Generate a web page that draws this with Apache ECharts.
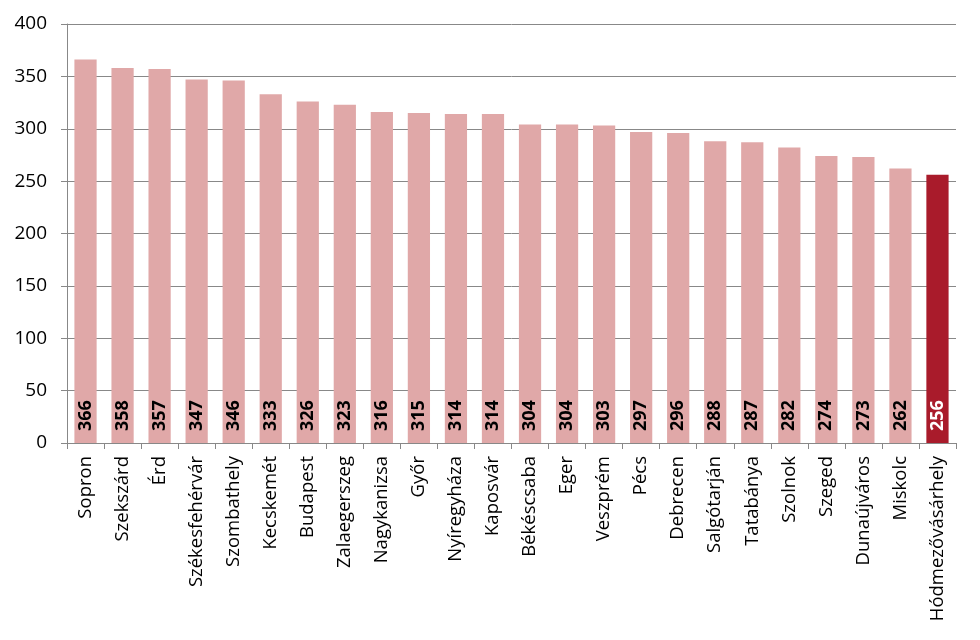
<!DOCTYPE html>
<html><head><meta charset="utf-8">
<script src="https://cdn.jsdelivr.net/npm/echarts@6/dist/echarts.min.js"></script>
<style>html,body{margin:0;padding:0;background:#fff}#c{width:980px;height:640px}</style>
</head><body><div id="c"></div>
<script>
const categories = ["Sopron","Szekszárd","Érd","Székesfehérvár","Szombathely","Kecskemét","Budapest","Zalaegerszeg","Nagykanizsa","Győr","Nyíregyháza","Kaposvár","Békéscsaba","Eger","Veszprém","Pécs","Debrecen","Salgótarján","Tatabánya","Szolnok","Szeged","Dunaújváros","Miskolc","Hódmezővásárhely"];
const values = [366,358,357,347,346,333,326,323,316,315,314,314,304,304,303,297,296,288,287,282,274,273,262,256];
const highlight = "Hódmezővásárhely";
const FONT = "Open Sans";
const chart = echarts.init(document.getElementById('c'));
chart.setOption({
  animation:false,
  grid:{left:67,right:24,top:24,bottom:197,containLabel:false},
  xAxis:{type:'category',data:categories,boundaryGap:true,
    axisLine:{lineStyle:{color:'#888',width:1}},
    axisTick:{show:true,alignWithLabel:false,length:6,lineStyle:{color:'#888'}},
    axisLabel:{rotate:90,interval:0,color:'#000',fontFamily:FONT,fontSize:18.5,margin:13}},
  yAxis:{type:'value',min:0,max:400,interval:50,
    axisLine:{show:true,lineStyle:{color:'#888'}},
    axisTick:{show:true,length:6,lineStyle:{color:'#888'}},
    splitLine:{lineStyle:{color:'#888',width:1}},
    axisLabel:{color:'#000',fontFamily:FONT,fontSize:19,margin:20}},
  series:[{type:'bar',barWidth:'60%',
    data:values.map((v,i)=>{
      const hi = categories[i]===highlight;
      return {value:v,itemStyle:{color:hi?'#A91B2B':'#E0A8A8'},
        label:{color:hi?'#fff':'#000'}};
    }),
    label:{show:true,position:'insideBottom',rotate:90,align:'left',verticalAlign:'middle',distance:12,
      fontFamily:FONT,fontWeight:'bold',fontSize:18}
  }]
});
</script></body></html>
